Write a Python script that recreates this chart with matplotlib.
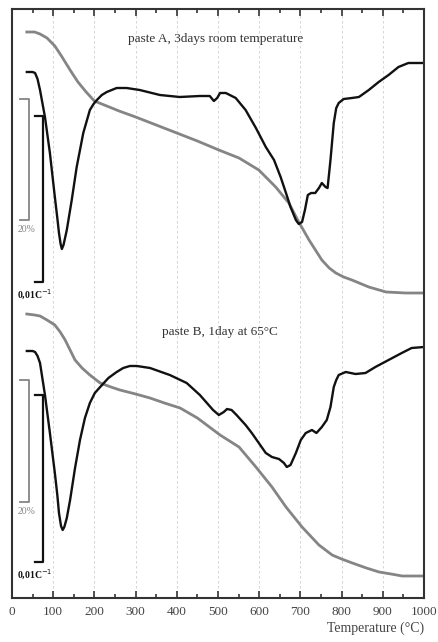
# TG / DTG curves of two pastes, stacked on one temperature axis
import numpy as np
import matplotlib.pyplot as plt
from matplotlib.ticker import MultipleLocator

# vertical positions (arbitrary units, growing downwards)
tg_a_T = [36, 55, 68, 85, 104, 120, 141, 160, 180, 200, 230, 260, 300, 350, 400, 450, 502,
          551, 599, 640, 672, 696, 721, 752, 770, 786, 805, 825, 866, 908, 956, 1000]
tg_a = [32, 32, 34, 38, 46, 56, 70, 82, 92, 101, 106, 111, 117, 125, 133, 141, 150,
        158, 170, 187, 203, 222, 240, 260, 268, 273, 277, 280, 287, 292, 293, 293]

dtg_a_T = [36, 50, 56, 62, 68, 80, 92, 104, 110, 114, 118, 121, 125, 133, 145, 157, 173, 189,
           198, 206, 218, 230, 254, 278, 310, 359, 407, 456, 480, 490, 498, 505, 519, 543,
           567, 592, 616, 636, 652, 665, 676, 689, 696, 704, 711, 718, 726, 736, 745, 752,
           761, 766, 773, 781, 787, 793, 805, 825, 842, 866, 890, 914, 938, 962, 1000]
dtg_a = [72, 72, 73, 79, 90, 117, 153, 197, 218, 233, 244, 249, 245, 230, 200, 167, 133, 110,
         104, 100, 95, 92, 88, 88, 90, 95, 97, 96, 96, 101, 98, 93, 93, 98,
         110, 128, 147, 160, 177, 193, 207, 220, 224, 222, 210, 195, 193, 193, 188, 183,
         187, 188, 160, 123, 108, 103, 99, 98, 97, 90, 82, 75, 67, 63, 63]

tg_b_T = [36, 55, 68, 85, 104, 117, 129, 141, 153, 170, 189, 214, 240, 262, 300, 335, 370,
          408, 450, 505, 551, 592, 631, 665, 704, 745, 777, 800, 826, 860, 891, 920, 947, 1000]
tg_b = [314, 315, 316, 320, 325, 332, 340, 350, 360, 368, 375, 383, 387, 390, 394, 398, 403,
        408, 418, 435, 447, 467, 487, 507, 527, 545, 555, 559, 563, 568, 572, 574, 576, 576]

dtg_b_T = [36, 50, 56, 62, 68, 80, 92, 104, 110, 114, 119, 123, 127, 133, 141, 153, 165, 177,
           189, 201, 214, 234, 254, 270, 286, 303, 335, 383, 424, 456, 488, 502, 514, 522,
           533, 545, 567, 582, 599, 616, 631, 648, 660, 667, 676, 689, 701, 713, 728, 739,
           752, 764, 773, 781, 787, 793, 810, 834, 858, 882, 914, 946, 970, 1000]
dtg_b = [351, 351, 352, 356, 363, 395, 433, 473, 495, 513, 526, 530, 527, 518, 500, 468, 440, 418,
         403, 393, 387, 378, 372, 368, 366, 366, 368, 375, 383, 395, 410, 415, 412, 409,
         410, 415, 425, 433, 443, 453, 457, 459, 463, 467, 465, 453, 440, 433, 430, 433,
         427, 420, 407, 387, 380, 375, 372, 374, 373, 367, 360, 353, 348, 347]

titles = ["paste A, 3days room temperature", "paste B, 1day at 65°C"]

serif = "Liberation Serif"
black = "#111111"
grey = "#858585"

fig = plt.figure(figsize=(4.39, 6.42), dpi=100)
ax = fig.add_axes([12 / 439, 44 / 642, 412 / 439, 589 / 642])
ax.set_xlim(0, 1000)
ax.set_ylim(598, 9)

# grid
for t in range(100, 1000, 100):
    ax.axvline(t, color="#cfcfcf", lw=0.6, ls=(0, (3, 3)), zorder=0)

ax.plot(tg_a_T, tg_a, color=grey, lw=2.0, solid_joinstyle="round")
ax.plot(dtg_a_T, dtg_a, color=black, lw=1.7, solid_joinstyle="round")
ax.plot(tg_b_T, tg_b, color=grey, lw=2.0, solid_joinstyle="round")
ax.plot(dtg_b_T, dtg_b, color=black, lw=1.7, solid_joinstyle="round")

# scale bars (20 % mass, 0,01 C^-1)
for (g0, g1, b0, b1) in [(99, 220, 116, 282), (380, 502, 395, 562)]:
    ax.plot([19, 41, 41, 19], [g0, g0, g1, g1], color=grey, lw=1.3)
    ax.plot([56, 75, 75, 56], [b0, b0, b1, b1], color=black, lw=1.6)
    ax.text(36, g1 + 9, "20%", color=grey, fontsize=7, family=serif, ha="center", va="center")
    ax.text(56, b1 + 13, "0,01C$^{-1}$", color=black, fontsize=7, family=serif,
            fontweight="bold", ha="center", va="center")

ax.text(495, 39, titles[0], fontsize=9.5, family=serif, color="#333333", ha="center", va="center")
ax.text(505, 332, titles[1], fontsize=9.5, family=serif, color="#333333", ha="center", va="center")

ax.xaxis.set_major_locator(MultipleLocator(100))
ax.xaxis.set_minor_locator(MultipleLocator(50))
ax.tick_params(axis="x", which="both", direction="in", top=True, bottom=True,
               color="#333333", width=1.2, labelsize=9.5, labelcolor="#444444", pad=6)
ax.tick_params(axis="x", which="major", length=5)
ax.tick_params(axis="x", which="minor", length=3)
ax.set_yticks([])
for lab in ax.get_xticklabels():
    lab.set_family(serif)
for s in ax.spines.values():
    s.set_linewidth(1.5)
    s.set_color("#333333")

ax.set_xlabel("Temperature (°C)", fontsize=10, family=serif, color="#444444",
              loc="right", labelpad=2)

fig.savefig("out.png", dpi=100)
